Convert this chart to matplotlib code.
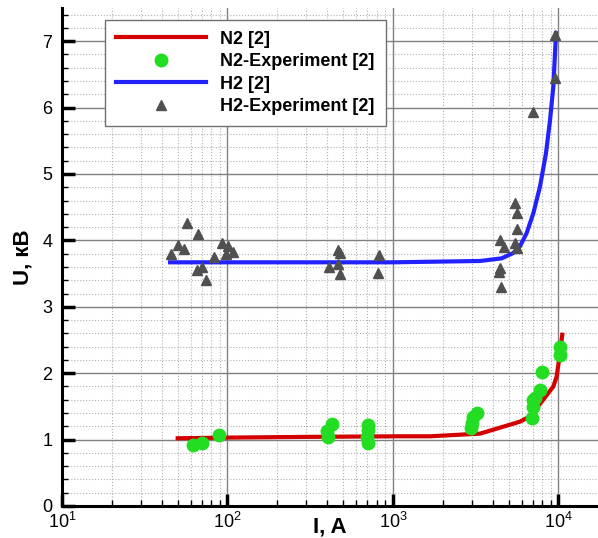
import numpy as np
import matplotlib.pyplot as plt
from matplotlib.ticker import LogLocator, MultipleLocator

plt.rcParams['font.family'] = ['Liberation Sans', 'DejaVu Sans']
plt.rcParams['mathtext.fontset'] = 'custom'
plt.rcParams['mathtext.rm'] = 'Liberation Sans'

# N2 model curve
n2_I = [50, 100, 274, 1100, 1680, 3360, 5850, 6730, 7910, 9310, 9750, 10210, 10540]
n2_U = [1.02, 1.03, 1.04, 1.05, 1.05, 1.09, 1.27, 1.35, 1.57, 1.80, 1.95, 2.30, 2.58]

# N2 experiment
n2e_I = [62, 70, 89, 426, 400, 405, 707, 707, 697, 707, 3210, 3040, 3000, 2950,
         6920, 7020, 7020, 7730, 7940, 10230, 10230, 7210]
n2e_U = [0.92, 0.95, 1.07, 1.24, 1.13, 1.04, 1.22, 1.15, 1.04, 0.95, 1.40, 1.34, 1.25, 1.18,
         1.32, 1.49, 1.60, 1.75, 2.02, 2.40, 2.27, 1.63]

# H2 model curve
h2_I = [45, 100, 1000, 3360, 4540, 5330, 5850, 6420, 7050, 7730, 8400, 8890, 9310, 9530, 9660]
h2_U = [3.67, 3.67, 3.67, 3.69, 3.73, 3.81, 3.91, 4.11, 4.41, 4.81, 5.31, 5.81, 6.32, 6.82, 7.12]

# H2 experiment
h2e_I = [45.6, 50, 54.6, 57, 66, 65, 70, 74, 83, 93, 98, 101, 108,
         410, 466, 479, 466, 479, 823, 811,
         4440, 4680, 4440, 4370, 4500, 5460, 5610, 5620, 5460, 5620,
         7020, 9530, 9530]
h2e_U = [3.80, 3.93, 3.87, 4.26, 4.10, 3.55, 3.60, 3.40, 3.75, 3.96, 3.80, 3.92, 3.83,
         3.60, 3.86, 3.81, 3.64, 3.49, 3.78, 3.51,
         4.01, 3.90, 3.58, 3.52, 3.30, 4.56, 4.41, 4.17, 3.96, 3.89,
         5.93, 6.45, 7.09]

fig = plt.figure(figsize=(5.98, 5.38), dpi=100)
ax = fig.add_axes([62/598, 32/538, 536/598, 498/538])

ax.plot(n2_I, n2_U, color='#d40000', lw=3, label='N2 [2]', zorder=3)
ax.plot(n2e_I, n2e_U, 'o', color='#22dd22', ms=9, label='N2-Experiment [2]', zorder=4)
ax.plot(h2_I, h2_U, color='#2222ff', lw=3, label='H2 [2]', zorder=3)
ax.plot(h2e_I, h2e_U, '^', color='#505050', ms=7, label='H2-Experiment [2]', zorder=4)

ax.set_xscale('log')
ax.set_xlim(10, 17330)
ax.set_ylim(0, 7.5)
ax.xaxis.set_major_locator(LogLocator(base=10))
ax.xaxis.set_minor_locator(LogLocator(base=10, subs=np.arange(2, 10)))
ax.yaxis.set_major_locator(MultipleLocator(1))
ax.yaxis.set_minor_locator(MultipleLocator(0.2))

ax.grid(which='major', color='#808080', lw=1, ls='-')
ax.grid(which='minor', color='#b0b0b0', lw=0.8, ls=':')
ax.set_axisbelow(True)

for s in ['top', 'right']:
    ax.spines[s].set_visible(False)
for s in ['left', 'bottom']:
    ax.spines[s].set_linewidth(2.2)

ax.tick_params(which='major', direction='in', length=9, width=2.5, labelsize=13)
ax.tick_params(which='minor', direction='in', length=4, width=1)
ax.tick_params(axis='y', which='major', pad=7)
ax.tick_params(axis='x', which='major', pad=4)

ax.set_xlabel('I, A', fontsize=16, fontweight='bold')
ax.xaxis.set_label_coords(0.5, -0.021)
ax.set_ylabel('U, кВ', fontsize=16, fontweight='bold', labelpad=6)

leg = ax.legend(loc='upper left', bbox_to_anchor=(0.08, 0.976), borderaxespad=0,
                prop={'weight': 'bold', 'size': 13}, handlelength=5.0,
                fancybox=False, framealpha=1, edgecolor='#707070',
                labelspacing=0.3, borderpad=0.6)
leg.get_frame().set_linewidth(1)

fig.savefig('out.png', dpi=100)
